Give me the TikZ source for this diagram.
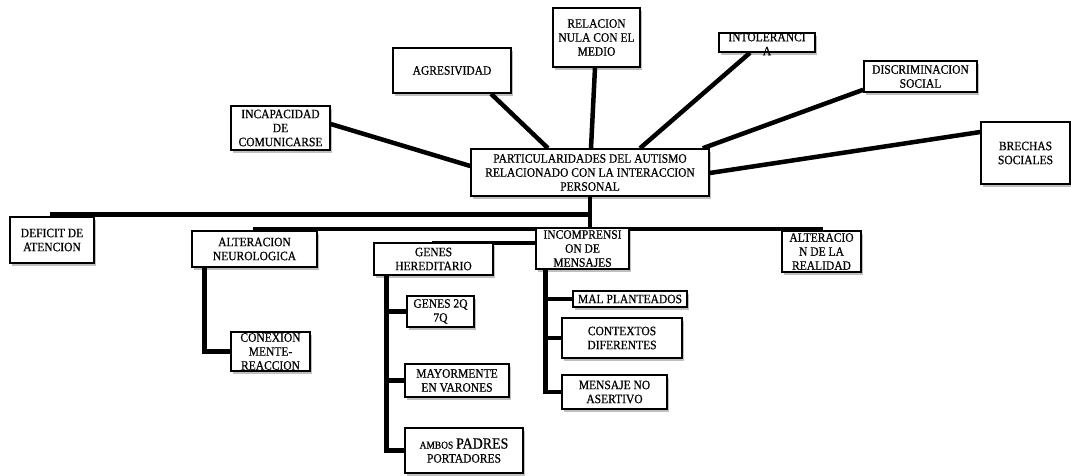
\documentclass[tikz,border=0pt]{standalone}
\usepackage{fontspec}
\setmainfont{Liberation Serif}[FakeStretch=0.9, FakeBold=0.6]
\usetikzlibrary{calc,shadows}
\pgfdeclarelayer{bgfill}
\pgfdeclarelayer{lines}
\pgfsetlayers{bgfill,lines,main}
\begin{document}
\begin{tikzpicture}[x=1pt,y=-1pt,
  box/.style={draw=black, line width=1.5pt, fill=white, rectangle, inner sep=0pt, align=center,
    font=\fontsize{12.8}{14}\selectfont,
    drop shadow={shadow xshift=1.5pt, shadow yshift=-2.5pt, fill=black, opacity=0.25}},
  lbl/.style={inner sep=0pt, align=center, font=\fontsize{12.8}{14}\selectfont},
  link/.style={line width=4.5pt, draw=black}]
\begin{pgfonlayer}{bgfill}
\fill[white] (0,0) rectangle (1071,475);
\end{pgfonlayer}
\useasboundingbox (0,0) rectangle (1071,475);

% ---------- nodes ----------
\node[box, minimum width=238pt, minimum height=47pt] (central) at (590,172.5)
  {PARTICULARIDADES DEL AUTISMO\\RELACIONADO CON LA INTERACCION\\PERSONAL};
\node[box, minimum width=99pt, minimum height=44pt] (incap) at (280.5,128) {INCAPACIDAD\\DE\\COMUNICARSE};
\node[box, minimum width=118pt, minimum height=45pt] (agres) at (452,70.5) {AGRESIVIDAD};
\node[box, minimum width=87pt, minimum height=59pt] (relac) at (596.5,37.5) {RELACION\\NULA CON EL\\MEDIO};
\node[box, minimum width=96pt, minimum height=19pt] (intol) at (767,42.5) {};
\node[box, minimum width=113pt, minimum height=31pt] (discr) at (920.5,76.5) {DISCRIMINACION\\SOCIAL};
\node[box, minimum width=89pt, minimum height=62pt] (brech) at (1025.5,153) {BRECHAS\\SOCIALES};

\node[box, minimum width=84pt, minimum height=46pt] (defic) at (52,240) {DEFICIT DE\\ATENCION};
\node[box, minimum width=125pt, minimum height=36pt] (altneu) at (254.5,249) {ALTERACION\\NEUROLOGICA};
\node[box, minimum width=79pt, minimum height=39pt] (conex) at (270.5,351.5) {CONEXION\\MENTE-\\REACCION};
\node[box, minimum width=119pt, minimum height=32pt] (genes) at (433.5,259) {GENES\\HEREDITARIO};
\node[box, minimum width=67pt, minimum height=31pt] (g2q) at (440.5,311.5) {GENES 2Q\\7Q};
\node[box, minimum width=104pt, minimum height=33pt] (mayor) at (457,380.5) {MAYORMENTE\\EN VARONES};
\node[box, minimum width=118pt, minimum height=45pt] (ambos) at (464,450.5)
  {{\fontsize{10.5}{12}\selectfont AMBOS} {\fontsize{15.5}{16}\selectfont PADRES}\\PORTADORES};
\node[box, minimum width=93pt, minimum height=41pt] (incomp) at (582.5,248.5) {INCOMPRENSI\\ON DE\\MENSAJES};
\node[box, minimum width=114pt, minimum height=16pt] (mal) at (630,299) {MAL PLANTEADOS};
\node[box, minimum width=120pt, minimum height=40pt] (contx) at (622,338) {CONTEXTOS\\DIFERENTES};
\node[box, minimum width=105pt, minimum height=34pt] (mensa) at (614.5,392) {MENSAJE NO\\ASERTIVO};
\node[box, minimum width=79pt, minimum height=41pt] (altrea) at (821.5,251.5) {ALTERACIO\\N DE LA\\REALIDAD};

\node[lbl] (intoltxt) at (767,44) {INTOLERANCI\\A};

% ---------- connectors ----------
\begin{pgfonlayer}{lines}
\draw[link] ($(incap.east)+(0,-4)$) -- ($(central.west)+(0,-6.5)$);
\draw[link] ($(agres.south)+(39,0)$) -- ($(central.north)+(-42,0)$);
\draw[link] ($(relac.south)+(-1.5,0)$) -- ($(central.north)+(1,0)$);
\draw[link] ($(intol.south)+(-17,0)$) -- ($(central.north)+(50,0)$);
\draw[link] ($(discr.south west)+(0,-3)$) -- ($(central.north east)+(-7,0)$);
\draw[link] ($(brech.west)+(0,-21)$) -- ($(central.east)+(0,0.5)$);

\draw[link] (central.south) -- ($(central.south |- altneu.north)+(0,-1.5)$);
\draw[link] (central.south) |- ($(defic.north)+(-2,-2)$);
\draw[link] ($(altneu.north)+(-1.5,-1.5)$) -- ($(altrea.north)+(1.5,-1.5)$);
\draw[link] ($(genes.north)+(-1.5,0.5)$) -- ($(genes.north -| incomp.west)+(0,0.5)$);

\draw[link] ($(altneu.south west)+(13,0)$) |- (conex.west);

\draw[link] ($(genes.south west)+(13,0)$) |- (g2q.west);
\draw[link] ($(genes.south west)+(13,0)$) |- (mayor.west);
\draw[link] ($(genes.south west)+(13,0)$) |- (ambos.west);

\draw[link] ($(incomp.south west)+(10,0)$) |- (mal.west);
\draw[link] ($(incomp.south west)+(10,0)$) |- (contx.west);
\draw[link] ($(incomp.south west)+(10,0)$) |- (mensa.west);
\end{pgfonlayer}
\end{tikzpicture}
\end{document}
